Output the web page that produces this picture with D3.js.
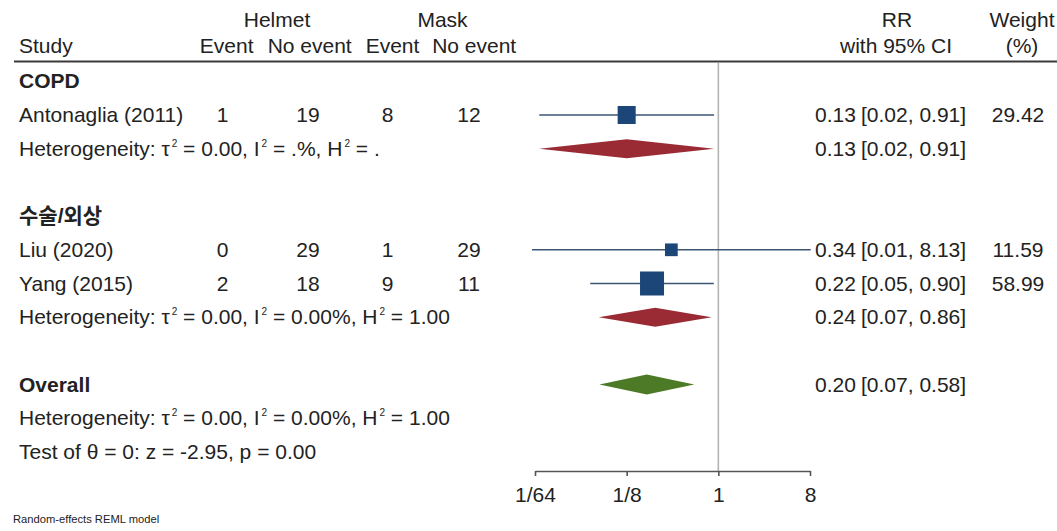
<!DOCTYPE html>
<html>
<head>
<meta charset="utf-8">
<script src="https://cdn.jsdelivr.net/npm/d3@7"></script>
<style>
  html, body { margin: 0; padding: 0; background: #fff; }
  svg { display: block; }
  text { font-family: "Liberation Sans", Arial, "Noto Sans CJK KR", sans-serif; fill: #222; }
</style>
</head>
<body>
<svg id="chart" width="1057" height="531"></svg>
<script>
// ---- data -------------------------------------------------------------
const groups = ["COPD", "수술/외상"];
const studies = ["Antonaglia (2011)", "Liu (2020)", "Yang (2015)"];
const studyGroup = [0, 1, 1];
const helmetEvent = [1, 0, 2];
const helmetNoEvent = [19, 29, 18];
const maskEvent = [8, 1, 9];
const maskNoEvent = [12, 29, 11];
const studyRR = [0.125, 0.3444, 0.2222];
const studyLow = [0.0172, 0.0146, 0.0547];
const studyHigh = [0.909, 8.125, 0.902];
const studyWeight = [29.42, 11.59, 58.99];

const groupRR = [0.125, 0.2388];
const groupLow = [0.0172, 0.0663];
const groupHigh = [0.909, 0.8598];
const groupTau2 = ["0.00", "0.00"];
const groupI2 = [".%", "0.00%"];
const groupH2 = [".", "1.00"];

const overallRR = 0.1974, overallLow = 0.0673, overallHigh = 0.579;
const overallTau2 = "0.00", overallI2 = "0.00%", overallH2 = "1.00";
const testZ = "-2.95", testP = "0.00";

const axisTicks = [1 / 64, 1 / 8, 1, 8];
const axisTickLabels = ["1/64", "1/8", "1", "8"];
const modelNote = "Random-effects REML model";

// ---- layout -----------------------------------------------------------
const svg = d3.select("#chart");
const FS = 21;

// build the row list: group title, its studies, its heterogeneity line, a gap
const rows = [];
groups.forEach((g, gi) => {
  rows.push({ type: "title", label: g });
  studies.forEach((s, si) => { if (studyGroup[si] === gi) rows.push({ type: "study", i: si }); });
  rows.push({ type: "het", g: gi });
  rows.push({ type: "gap" });
});
rows.push({ type: "overall" });
rows.push({ type: "ohet" });
rows.push({ type: "test" });

const y = d3.scalePoint().domain(d3.range(rows.length)).range([81.3, 452]);
const x = d3.scaleLog().base(2).domain([1 / 64, 8]).range([535, 810]);
const side = d3.scaleSqrt().domain([0, d3.max(studyWeight)]).range([0, 20.3]);
const fmt = d3.format(".2f");

const col = { study: 19, hE: 222.6, hN: 308, mE: 387.5, mN: 469, rr: 815, ci: 861, w: 1018 };
const base = yc => yc + 7;

function addText(xp, yp, str, opts = {}) {
  return svg.append("text").attr("x", xp).attr("y", yp)
    .attr("font-size", opts.size || FS)
    .attr("font-weight", opts.bold ? "bold" : null)
    .attr("text-anchor", opts.anchor || "start")
    .text(str);
}

// estimate followed by its bracketed interval
function addCI(yp, r, l, h) {
  addText(col.rr, yp, fmt(r));
  addText(col.ci, yp, `[${fmt(l)}, ${fmt(h)}]`);
}

// text with small raised "2" markers
function addHet(yp, tau2, i2, h2) {
  const t = svg.append("text").attr("x", col.study).attr("y", yp).attr("font-size", FS);
  const parts = [["Heterogeneity: τ", false], ["2", true], [` = ${tau2}, I`, false], ["2", true],
                 [` = ${i2}, H`, false], ["2", true], [` = ${h2}`, false]];
  let raised = false;
  parts.forEach(([s, sup]) => {
    const ts = t.append("tspan").text(s);
    if (sup) { ts.attr("font-size", 10).attr("dx", 2).attr("dy", -9); raised = true; }
    else if (raised) { ts.attr("dy", 9); raised = false; }
  });
}

// header
const hTop = 26.5, hBot = 53;
addText(277, hTop, "Helmet", { anchor: "middle" });
addText(442.5, hTop, "Mask", { anchor: "middle" });
addText(col.study, hBot, "Study");
addText(226.7, hBot, "Event", { anchor: "middle" });
addText(309.7, hBot, "No event", { anchor: "middle" });
addText(392.5, hBot, "Event", { anchor: "middle" });
addText(474.2, hBot, "No event", { anchor: "middle" });
addText(897, hTop, "RR", { anchor: "middle" });
addText(896, hBot, "with 95% CI", { anchor: "middle" });
addText(1022, hTop, "Weight", { anchor: "middle" });
addText(1022, hBot, "(%)", { anchor: "middle" });

svg.append("line").attr("x1", 14).attr("x2", 1057).attr("y1", 61.5).attr("y2", 61.5)
  .attr("stroke", "#3a3a3a").attr("stroke-width", 2);

// reference line at RR = 1
svg.append("line").attr("x1", x(1)).attr("x2", x(1)).attr("y1", 63).attr("y2", 471)
  .attr("stroke", "#b4b4b4").attr("stroke-width", 1.6);

const diamond = (r, l, h, yc, hh) =>
  `M${x(l)},${yc} L${x(r)},${yc - hh / 2} L${x(h)},${yc} L${x(r)},${yc + hh / 2} Z`;

rows.forEach((row, ri) => {
  const yc = y(ri);
  if (row.type === "title") {
    addText(col.study, base(yc), row.label, { bold: true });
  } else if (row.type === "study") {
    const i = row.i;
    addText(col.study, base(yc), studies[i]);
    addText(col.hE, base(yc), helmetEvent[i], { anchor: "middle" });
    addText(col.hN, base(yc), helmetNoEvent[i], { anchor: "middle" });
    addText(col.mE, base(yc), maskEvent[i], { anchor: "middle" });
    addText(col.mN, base(yc), maskNoEvent[i], { anchor: "middle" });
    svg.append("line").attr("x1", x(studyLow[i])).attr("x2", x(studyHigh[i]))
      .attr("y1", yc).attr("y2", yc).attr("stroke", "#3b5674").attr("stroke-width", 1.6);
    const s = side(studyWeight[i]);
    svg.append("rect").attr("x", x(studyRR[i]) - s / 2).attr("y", yc - s / 2)
      .attr("width", s).attr("height", s)
      .attr("fill", "#1b4677").attr("stroke", "#1b4677").attr("stroke-width", 3.7);
    addCI(base(yc), studyRR[i], studyLow[i], studyHigh[i]);
    addText(col.w, base(yc), fmt(studyWeight[i]), { anchor: "middle" });
  } else if (row.type === "het") {
    const g = row.g;
    addHet(base(yc), groupTau2[g], groupI2[g], groupH2[g]);
    svg.append("path").attr("d", diamond(groupRR[g], groupLow[g], groupHigh[g], yc, 19))
      .attr("fill", "#9a2b35");
    addCI(base(yc), groupRR[g], groupLow[g], groupHigh[g]);
  } else if (row.type === "overall") {
    addText(col.study, base(yc), "Overall", { bold: true });
    svg.append("path").attr("d", diamond(overallRR, overallLow, overallHigh, yc, 20))
      .attr("fill", "#4c7a26");
    addCI(base(yc), overallRR, overallLow, overallHigh);
  } else if (row.type === "ohet") {
    addHet(base(yc), overallTau2, overallI2, overallH2);
  } else if (row.type === "test") {
    addText(col.study, base(yc), `Test of θ = 0: z = ${testZ}, p = ${testP}`);
  }
});

// x axis
const axis = svg.append("g").attr("transform", "translate(0,471)")
  .call(d3.axisBottom(x).tickValues(axisTicks)
    .tickFormat((d, i) => axisTickLabels[i]).tickSize(5).tickSizeOuter(0).tickPadding(11));
axis.select(".domain").attr("stroke", "#555").attr("stroke-width", 1.6);
axis.selectAll(".tick line").attr("stroke", "#555").attr("stroke-width", 1.6);
axis.selectAll(".tick text").attr("font-size", FS).attr("fill", "#222")
  .attr("font-family", "'Liberation Sans', Arial, sans-serif");

addText(13, 523, modelNote, { size: 11.2 });
</script>
</body>
</html>
